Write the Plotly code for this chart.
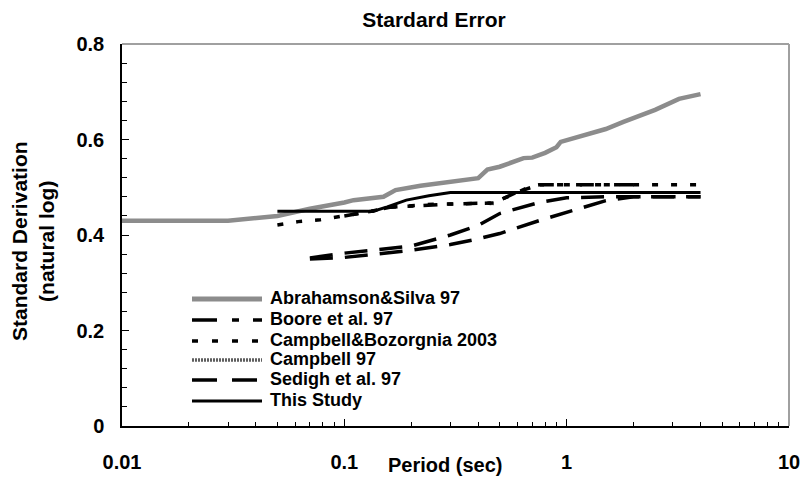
import plotly.graph_objects as go

# ---------------- data ----------------
T_as = [0.01, 0.03, 0.05, 0.07, 0.1, 0.11, 0.15, 0.17, 0.22, 0.3, 0.4, 0.44, 0.5,
        0.64, 0.7, 0.8, 0.9, 0.94, 1.15, 1.5, 1.8, 2.5, 3.2, 4.0]
s_as = [0.43, 0.43, 0.44, 0.455, 0.468, 0.473, 0.48, 0.494, 0.503, 0.511, 0.519, 0.537, 0.543,
        0.561, 0.562, 0.572, 0.584, 0.595, 0.606, 0.622, 0.637, 0.662, 0.685, 0.695]

T_boore = [0.1, 0.13, 0.16, 0.2, 0.3, 0.47, 0.6, 0.75, 1.0, 1.5, 2.0]
s_boore = [0.44, 0.449, 0.458, 0.461, 0.465, 0.467, 0.49, 0.505, 0.505, 0.505, 0.505]

T_cb03 = [0.05, 0.062, 0.078, 0.094, 0.112, 0.13, 0.16, 0.2, 0.26, 0.32, 0.42, 0.47, 0.5,
          0.6, 0.7, 0.75, 1.0, 1.5, 2.0, 3.0, 4.0]
s_cb03 = [0.421, 0.428, 0.432, 0.438, 0.445, 0.449, 0.458, 0.461, 0.465, 0.465, 0.467, 0.467, 0.473,
          0.49, 0.503, 0.505, 0.505, 0.505, 0.505, 0.505, 0.505]

T_c97 = [0.45, 0.47]
s_c97 = [0.466, 0.466]

T_sad = [0.07, 0.1, 0.2, 0.3, 0.4, 0.5, 0.75, 1.0, 1.5, 2.0, 3.0, 4.0]
s_sad_a = [0.352, 0.362, 0.377, 0.40, 0.42, 0.445, 0.468, 0.478, 0.48, 0.48, 0.48, 0.48]
s_sad_b = [0.35, 0.353, 0.368, 0.38, 0.392, 0.403, 0.43, 0.447, 0.472, 0.48, 0.48, 0.48]

T_this = [0.05, 0.135, 0.156, 0.19, 0.24, 0.3, 4.0]
s_this = [0.45, 0.45, 0.459, 0.473, 0.482, 0.489, 0.489]

legend_names = ["Abrahamson&Silva 97", "Boore et al. 97", "Campbell&Bozorgnia 2003",
                "Campbell 97", "Sedigh et al. 97", "This Study"]

x_tickvals = [0.01, 0.1, 1, 10]
x_ticktext = ["0.01", "0.1", "1", "10"]
y_tickvals = [0, 0.2, 0.4, 0.6, 0.8]
y_ticktext = ["0", "0.2", "0.4", "0.6", "0.8"]

# ---------------- styles ----------------
FONT = "Liberation Sans, Arial, sans-serif"
GRAY = "#8c8c8c"
DGRAY = "#5e5e5e"
styles = [
    dict(color=GRAY, width=4.5, dash="solid"),
    dict(color="black", width=3.5, dash="14px,10px,6px,10px"),
    dict(color="black", width=3.5, dash="6px,13px"),
    dict(color=DGRAY, width=3.5, dash="2px,1px"),
    dict(color="black", width=3.5, dash="23px,12px"),
    dict(color="black", width=3, dash="solid"),
]
legend_dash = ["solid", "25px,15px,7px,14px", "6px,14px", "2px,1px", "25px,15px", "solid"]

fig = go.Figure()
series = [
    (T_as, s_as, 0),
    (T_c97, s_c97, 3),
    (T_sad, s_sad_b, 4),
    (T_sad, s_sad_a, 4),
    (T_cb03, s_cb03, 2),
    (T_boore, s_boore, 1),
    (T_this, s_this, 5),
]
for T, s, k in series:
    fig.add_trace(go.Scatter(x=T, y=s, mode="lines", name=legend_names[k],
                             line=styles[k], showlegend=False, hoverinfo="skip"))

# plot area in pixels
L, R, TOP, BOT = 122, 789, 44, 426
W, H = 802, 478
def px(xp):
    return (xp - L) / (R - L)
def py(yp):
    return (BOT - yp) / (BOT - TOP)

shapes = []
annotations = []
# top and right gray frame
shapes.append(dict(type="line", xref="paper", yref="paper", x0=0, x1=1, y0=1, y1=1,
                   line=dict(color="#a0a0a0", width=2)))
shapes.append(dict(type="line", xref="paper", yref="paper", x0=1, x1=1, y0=0, y1=1,
                   line=dict(color="#a0a0a0", width=2)))

# manual legend
rows = [299, 320, 341, 360, 380, 401]
for i, name in enumerate(legend_names):
    st = styles[i]
    shapes.append(dict(type="line", xref="paper", yref="paper",
                       x0=px(192), x1=px(262), y0=py(rows[i]), y1=py(rows[i]),
                       line=dict(color=st["color"], width=st["width"] + (0.5 if i == 0 else 0),
                                 dash=legend_dash[i])))
    annotations.append(dict(xref="paper", yref="paper", x=px(268), y=py(rows[i] - 1),
                            xanchor="left", yanchor="middle", showarrow=False,
                            text="<b>%s</b>" % name,
                            font=dict(family=FONT, size=18, color="black")))

# axis titles
annotations.append(dict(xref="paper", yref="paper", x=px(445), y=py(465),
                        xanchor="center", yanchor="middle", showarrow=False,
                        text="<b>Period (sec)</b>",
                        font=dict(family=FONT, size=20, color="black")))
annotations.append(dict(xref="paper", yref="paper", x=px(33), y=py(241),
                        xanchor="center", yanchor="middle", showarrow=False, textangle=-90,
                        text="<b>Standard Derivation<br>(natural log)</b>",
                        font=dict(family=FONT, size=21, color="black")))

minor_x = [m * 10 ** e for e in (-2, -1, 0) for m in range(2, 10)]

fig.update_layout(
    width=W, height=H, autosize=False,
    margin=dict(l=L, r=W - R, t=TOP, b=H - BOT, pad=0, autoexpand=False),
    paper_bgcolor="white", plot_bgcolor="white",
    title=dict(text="<b>Stardard Error</b>", x=434 / W, xanchor="center",
               xref="container", yref="container", y=1 - 20 / H, yanchor="middle",
               font=dict(family=FONT, size=21, color="black"), automargin=False),
    showlegend=False,
    shapes=shapes, annotations=annotations,
    xaxis=dict(type="log", range=[-2, 1], tickvals=x_tickvals, ticktext=x_ticktext,
               automargin=False,
               ticks="inside", ticklen=7, tickwidth=1.2, tickcolor="black",
               showline=True, linecolor="black", linewidth=1.5, showgrid=False, zeroline=False,
               tickfont=dict(family=FONT, size=20, color="black", weight="bold"),
               ticklabelstandoff=17,
               minor=dict(tickvals=minor_x, ticks="inside", ticklen=4, tickwidth=1.2,
                          tickcolor="black", showgrid=False)),
    yaxis=dict(range=[0, 0.8], tickvals=y_tickvals, ticktext=y_ticktext,
               automargin=False,
               ticks="inside", ticklen=7, tickwidth=1.2, tickcolor="black",
               showline=True, linecolor="black", linewidth=1.5, showgrid=False, zeroline=False,
               tickfont=dict(family=FONT, size=20, color="black", weight="bold"),
               ticklabelstandoff=12,
               minor=dict(dtick=0.04, ticks="inside", ticklen=5, tickwidth=1.2,
                          tickcolor="black", showgrid=False)),
)

fig.write_html("out.html")
